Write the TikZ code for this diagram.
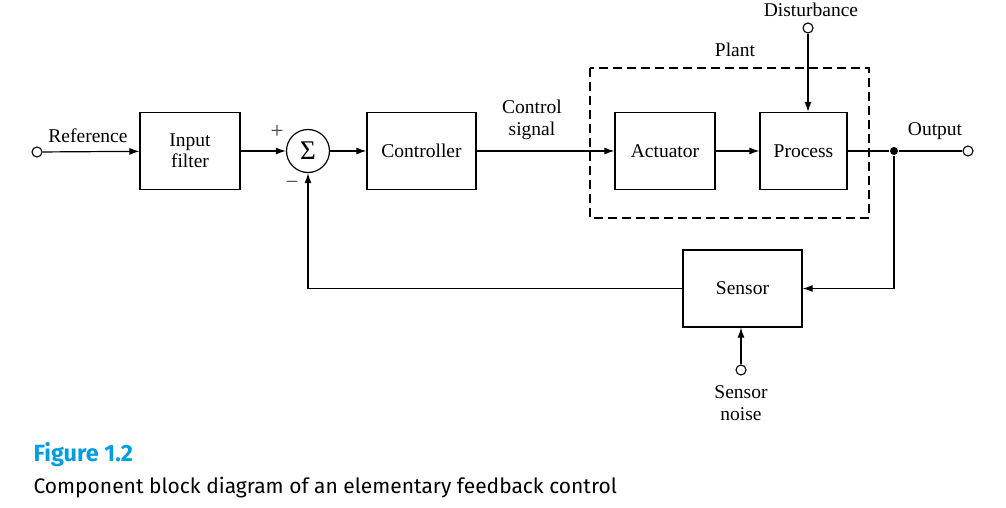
\documentclass[tikz,border=0pt]{standalone}
\usepackage{fontspec}
\setmainfont{Liberation Serif}
\newfontfamily\capfont{Fira Sans}
\usetikzlibrary{arrows.meta,calc}
\definecolor{capblue}{RGB}{0,158,224}
\begin{document}
\begin{tikzpicture}[x=1pt,y=-1pt,
  font=\fontsize{19.5}{23}\selectfont,
  line width=1.2pt,
  blk/.style={draw, line width=1.2pt, minimum height=77pt, inner sep=0pt, align=center},
  term/.style={draw, circle, fill=white, line width=1.1pt, minimum size=10pt, inner sep=0pt},
  sumnode/.style={draw, circle, line width=1.2pt, minimum size=43pt, inner sep=0pt},
  arr/.style={-{Latex[length=10pt,width=7pt]}, line width=1.2pt},
  lbl/.style={inner sep=0pt, align=center}]
\useasboundingbox (0,0) rectangle (1006,508);
% blocks
\node[term] (ref) at (37,152) {};
\node[blk, minimum width=100pt] (filt) at (190,151) {Input\\[-2pt]filter};
\node[sumnode] (sum) at (308,151) {\fontsize{27}{29}\selectfont Σ};
\node[blk, minimum width=109pt] (ctrl) at (421.5,151) {Controller};
\node[blk, minimum width=100pt] (act) at (665,151) {Actuator};
\node[blk, minimum width=87pt] (proc) at (803.5,151) {Process};
\node[blk, minimum width=119pt] (sens) at (742.5,288.5) {Sensor};
\node[term] (dist) at (808,28) {};
\node[term] (out) at (968,151) {};
\node[term] (noise) at (741,370) {};
\node[circle, fill=black, minimum size=8pt, inner sep=0pt] (junc) at (894,151) {};
\coordinate (fbcorner) at (894,288.5);
\coordinate (fbleft) at (308,288.5);
% plant
\draw[dashed, dash pattern=on 9pt off 5pt, line width=1.2pt] (590,68) rectangle (869,218);
\node[lbl] (plantlbl) at (735,50) {Plant};
% connectors
\draw[arr] (ref) -- (filt);
\draw[arr] (filt) -- (sum);
\draw[arr] (sum) -- (ctrl);
\draw[arr] (ctrl) -- (act);
\draw[arr] (act) -- (proc);
\draw (proc) -- (junc);
\draw (junc) -- (out);
\draw[arr] (dist) -- (dist |- proc.north);
\draw[arr] (junc) -- (fbcorner) -- (sens.east);
\draw[arr] (sens.west) -- (fbleft) -- (sum.south);
\draw[arr] (noise) -- (noise |- sens.south);
% labels
\node[lbl] (reflbl) at (88,136) {Reference};
\node[lbl, font=\fontsize{23}{25}\selectfont, text=black!75] (plus) at (277,132) {+};
\node[lbl, font=\fontsize{23}{25}\selectfont, text=black!70] (minus) at (292,185) {−};
\node[lbl] (csig) at (532,120) {Control\\[-1pt]signal};
\node[lbl] (distlbl) at (811,10) {Disturbance};
\node[lbl] (outlbl) at (935,131) {Output};
\node[lbl] (noiselbl) at (741,403) {Sensor\\[-1pt]noise};
% caption
\node[anchor=base west, inner sep=0pt, text=capblue, font=\capfont\bfseries\fontsize{23.5}{26}\selectfont] (figno) at (33,461) {Figure 1.2};
\node[anchor=base west, inner sep=0pt, font=\capfont\fontsize{21}{24}\selectfont] (captxt) at (33,493) {Component block diagram of an elementary feedback control};
\end{tikzpicture}
\end{document}
